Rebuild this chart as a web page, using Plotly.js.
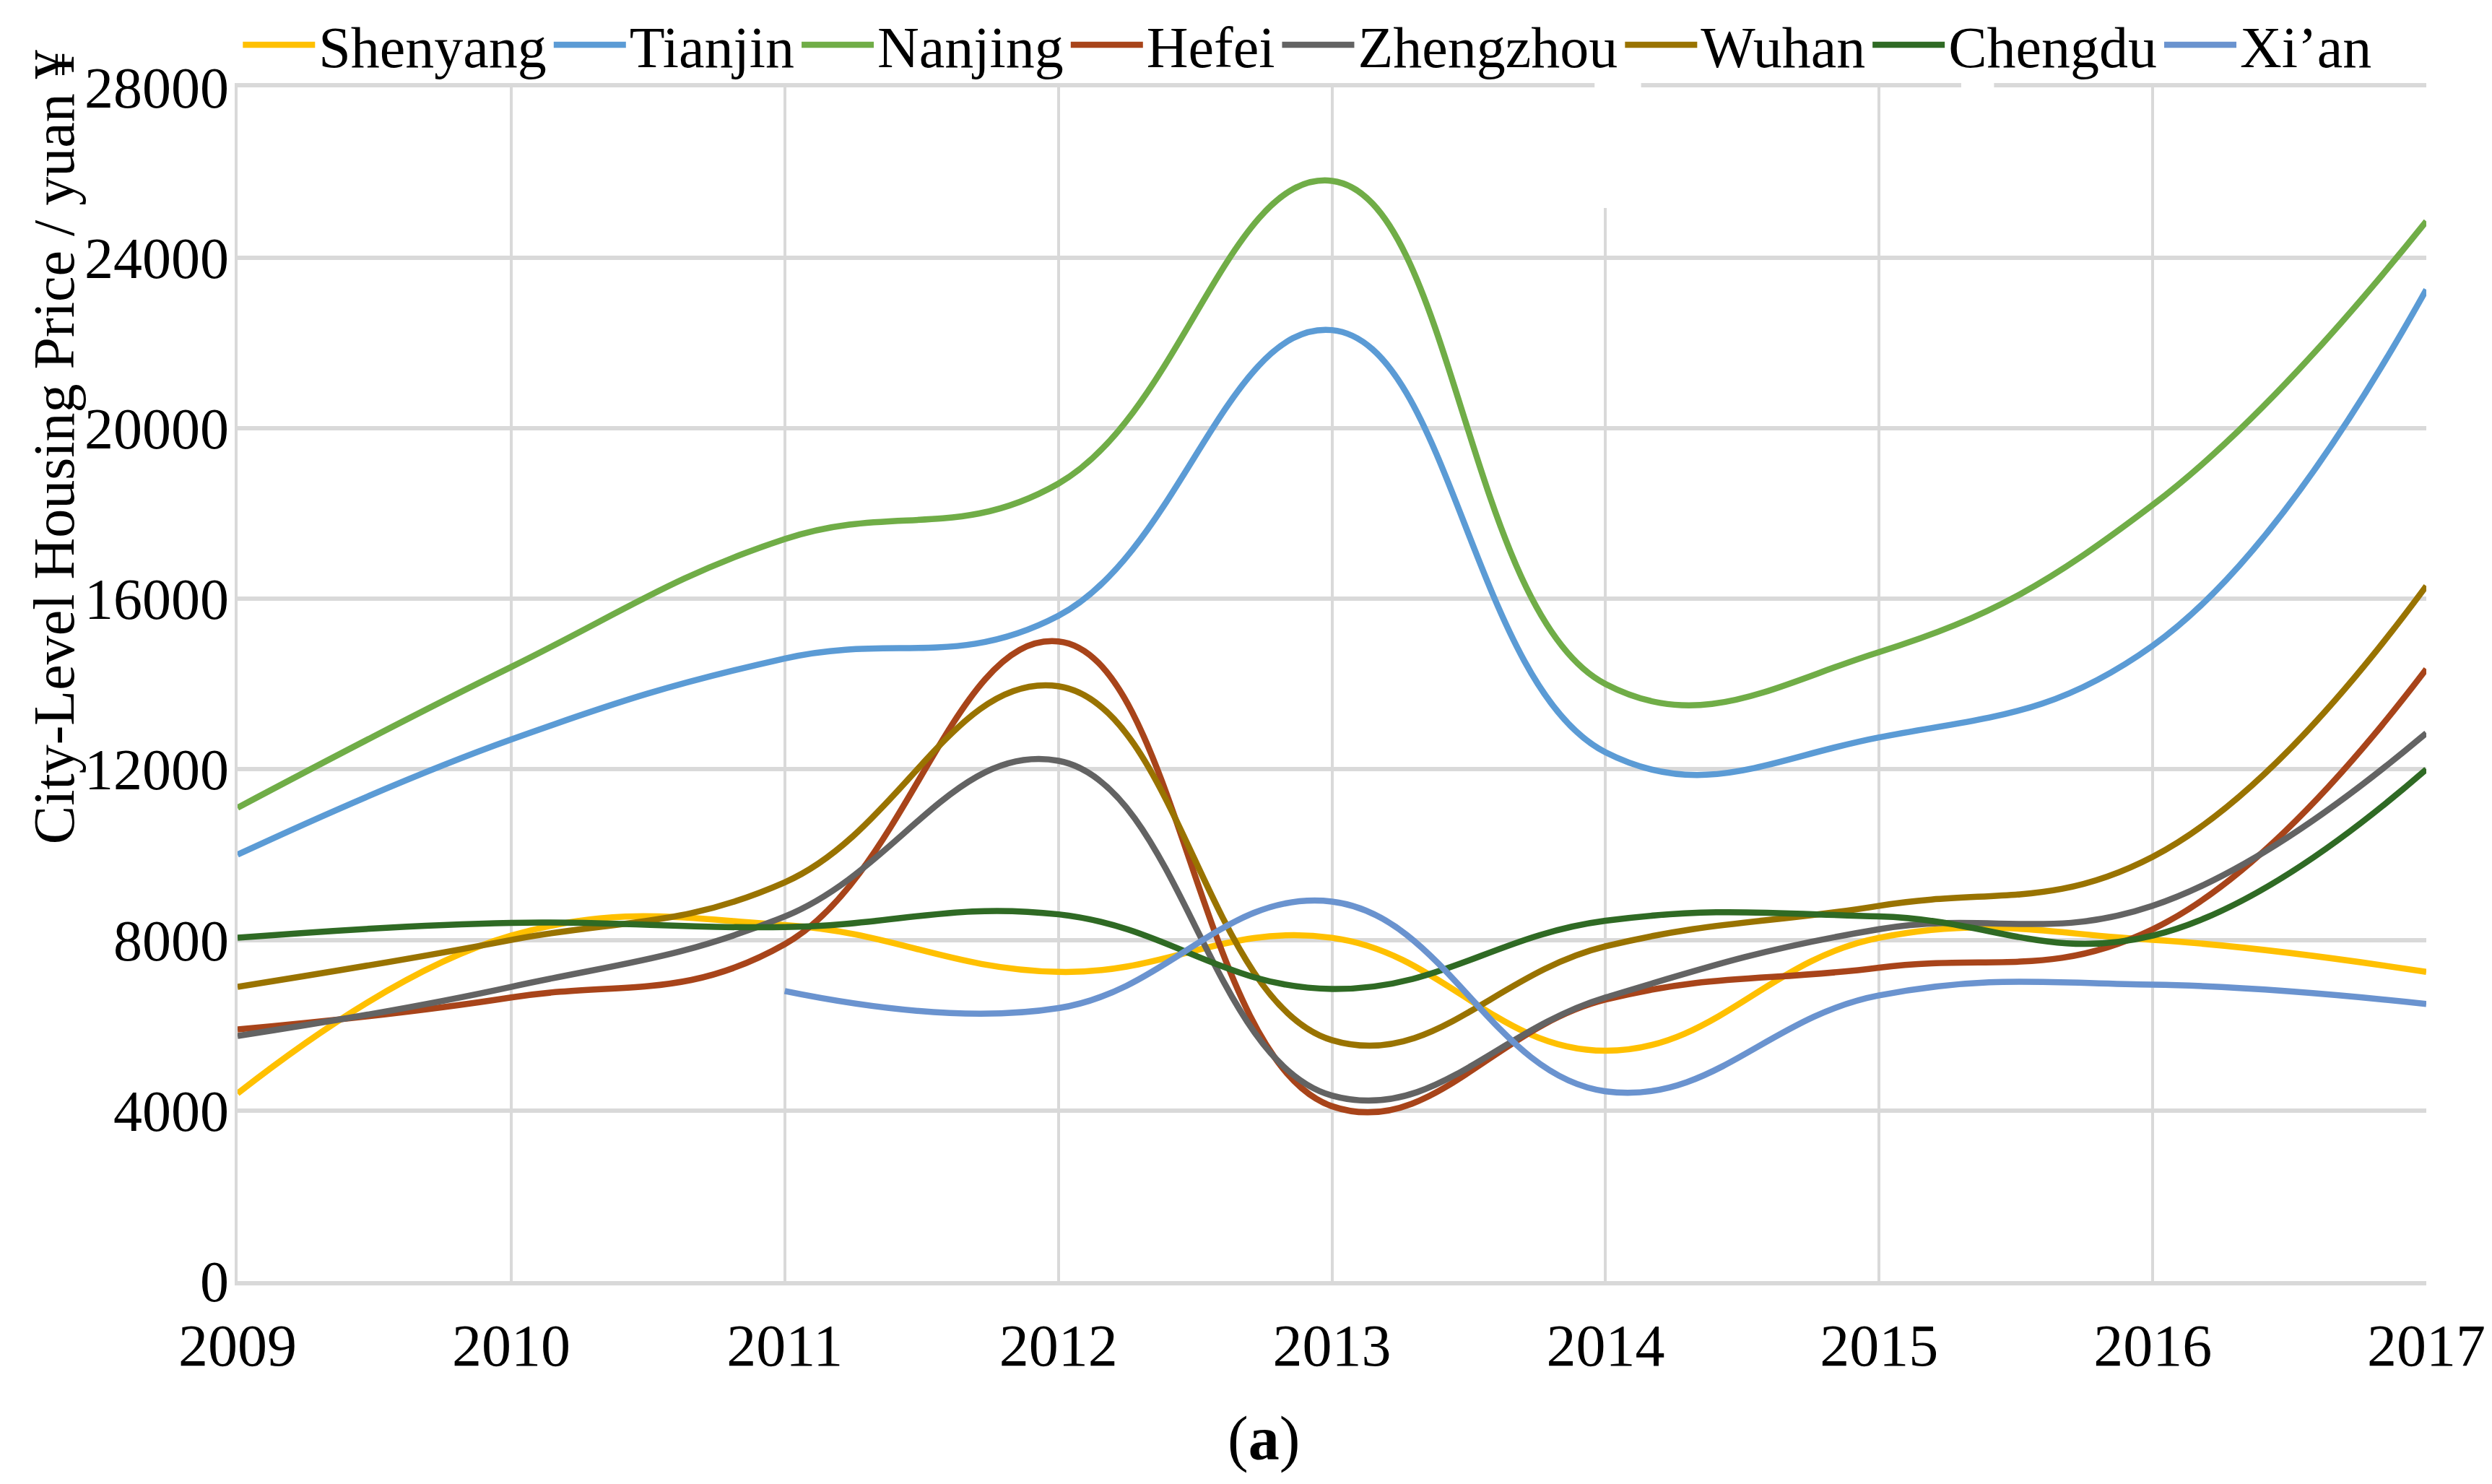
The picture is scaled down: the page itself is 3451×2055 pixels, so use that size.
<!DOCTYPE html>
<html>
<head>
<meta charset="utf-8">
<script src="https://cdn.plot.ly/plotly-3.0.1.min.js"></script>
<style>
  html, body { margin: 0; padding: 0; background: #fff; }
  #chart { width: 3451px; height: 2055px; }
</style>
</head>
<body>
<div id="chart"></div>
<script>
// years on the x axis
const years = [2009, 2010, 2011, 2012, 2013, 2014, 2015, 2016, 2017];

// city-level housing price, yuan
const shenyang  = [4400, 8100, 8350, 7250, 8050, 5400, 8050, 8000, 7250];
const tianjin   = [10000, 12700, 14600, 15600, 22300, 12400, 12750, 14900, 23250];
const nanjing   = [11100, 14400, 17400, 18700, 25800, 14000, 14750, 18200, 24850];
const hefei     = [5900, 6650, 7900, 15000, 4100, 6600, 7350, 8250, 14350];
const zhengzhou = [5750, 6900, 8550, 12200, 4350, 6650, 8250, 8800, 12850];
const wuhan     = [6900, 8000, 9350, 13950, 5650, 7850, 8800, 9950, 16300];
const chengdu   = [8050, 8400, 8300, 8600, 6850, 8450, 8550, 8100, 12000];
const xian      = [null, null, 6800, 6400, 8900, 4450, 6700, 6950, 6500];

const cityNames = ['Shenyang', 'Tianjin', 'Nanjing', 'Hefei', 'Zhengzhou', 'Wuhan', 'Chengdu', 'Xi\u2019an'];
const cityValues = [shenyang, tianjin, nanjing, hefei, zhengzhou, wuhan, chengdu, xian];
const cityColors = ['#FFC000', '#5B9BD5', '#70AD47', '#A8441A', '#636363', '#997300', '#2F6A24', '#6A93CF'];

const yTicks = [0, 4000, 8000, 12000, 16000, 20000, 24000, 28000];

const FONT = 'Liberation Serif, Times New Roman, serif';

var traces = cityValues.map((vals, i) => ({
    x: years,
    y: vals,
    name: cityNames[i],
    type: 'scatter',
    mode: 'lines',
    connectgaps: false,
    line: { color: cityColors[i], width: 8.5, shape: 'spline', smoothing: 1.2 }
}));

// white patches where the source figure's grid is broken near the top
function gridGap(x0, x1, y0) {
    return {
        type: 'rect', layer: 'above',
        xref: 'x', yref: 'paper',
        x0: x0, x1: x1, y0: y0, y1: 1.012,
        fillcolor: '#ffffff', line: { width: 0 }
    };
}

var layout = {
    width: 3451,
    height: 2055,
    paper_bgcolor: '#ffffff',
    plot_bgcolor: '#ffffff',
    margin: { l: 329, r: 91, t: 116, b: 281 },
    font: { family: FONT, size: 80, color: '#000000' },
    showlegend: true,
    legend: {
        orientation: 'h',
        xref: 'container',
        yref: 'container',
        x: 0.096,
        xanchor: 'left',
        y: 1 - 62 / 2055,
        yanchor: 'middle',
        font: { family: FONT, size: 80, color: '#000000' },
        bgcolor: 'rgba(0,0,0,0)',
        itemwidth: 100,
        traceorder: 'normal'
    },
    xaxis: {
        range: [2009, 2017],
        tickvals: years,
        ticktext: years.map(String),
        showgrid: true,
        gridcolor: '#d9d9d9',
        gridwidth: 4,
        showline: true,
        mirror: true,
        linecolor: '#d9d9d9',
        linewidth: 6,
        zeroline: false,
        ticks: 'outside',
        ticklen: 13,
        tickcolor: 'rgba(0,0,0,0)',
        tickfont: { family: FONT, size: 82, color: '#000000' }
    },
    yaxis: {
        range: [0, 28000],
        tickvals: yTicks,
        ticktext: yTicks.map(String),
        showgrid: true,
        gridcolor: '#d9d9d9',
        gridwidth: 6,
        showline: true,
        linecolor: '#d9d9d9',
        linewidth: 4,
        zeroline: false,
        ticks: '',
        ticklabelstandoff: -8,
        tickfont: { family: FONT, size: 80, color: '#000000' }
    },
    shapes: [
        gridGap(2013.96, 2014.13, (1774 - 284) / 1658),
        gridGap(2015.30, 2015.42, 0.99)
    ],
    annotations: [
        {
            text: 'City-Level Housing Price / yuan \u00a5',
            textangle: -90,
            xref: 'paper', yref: 'paper',
            x: (75 - 329) / 3031, y: (1774 - 616) / 1658,
            xanchor: 'center', yanchor: 'middle',
            showarrow: false,
            font: { family: FONT, size: 80, color: '#000000' }
        },
        {
            text: '(<b>a</b>)',
            xref: 'paper', yref: 'paper',
            x: (1750 - 329) / 3031, y: (1774 - 1993) / 1658,
            xanchor: 'center', yanchor: 'middle',
            showarrow: false,
            font: { family: FONT, size: 86, color: '#000000' }
        }
    ]
};

Plotly.newPlot('chart', traces, layout, { staticPlot: true, displayModeBar: false });
</script>
</body>
</html>
